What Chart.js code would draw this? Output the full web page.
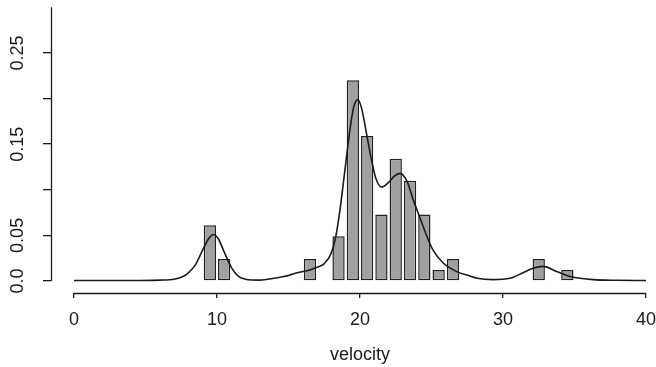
<!DOCTYPE html>
<html>
<head>
<meta charset="utf-8">
<script src="https://cdn.jsdelivr.net/npm/chart.js@4/dist/chart.umd.min.js"></script>
<style>
  html, body { margin: 0; padding: 0; background: #ffffff; }
  #wrap { width: 656px; height: 367px; position: relative; }
</style>
</head>
<body>
<div id="wrap"><canvas id="c"></canvas></div>
<script>
// Histogram of galaxy velocities (1000 km/s), unit-width bins, density scale
const binStarts = [9, 10, 16, 18, 19, 20, 21, 22, 23, 24, 25, 26, 32, 34];
const binHeights = [0.061, 0.024, 0.024, 0.049, 0.220, 0.159, 0.073, 0.134, 0.110, 0.073, 0.012, 0.024, 0.024, 0.012];

// Smooth density estimate overlaid on the histogram
const curveX = [0, 2, 4, 6, 7, 7.5, 8, 8.5, 9, 9.4, 9.75, 10.1, 10.5, 11, 11.5, 12, 13, 14, 15, 15.6, 16.5, 17, 17.5, 18, 18.3, 18.6, 18.95, 19.3, 19.55, 19.85, 20.1, 20.5, 20.8, 21.1, 21.5, 22, 22.4, 22.8, 23.3, 23.7, 24.2, 24.7, 25.1, 25.8, 26.8, 27.6, 28.2, 29.3, 30.5, 31.4, 32.1, 32.8, 33.8, 34.7, 36.3, 38, 40];
const curveY = [0.0005, 0.0005, 0.0005, 0.001, 0.002, 0.004, 0.009, 0.018, 0.034, 0.046, 0.051, 0.046, 0.032, 0.015, 0.005, 0.002, 0.001, 0.003, 0.006, 0.009, 0.012, 0.015, 0.019, 0.031, 0.048, 0.078, 0.122, 0.166, 0.190, 0.199, 0.190, 0.158, 0.133, 0.113, 0.103, 0.108, 0.115, 0.118, 0.109, 0.090, 0.069, 0.048, 0.034, 0.020, 0.010, 0.006, 0.003, 0.0015, 0.003, 0.009, 0.014, 0.016, 0.010, 0.005, 0.0015, 0.0008, 0.0005];

// Axis ticks and their labels
const xTicks = [0, 10, 20, 30, 40];
const xTickLabels = ['0', '10', '20', '30', '40'];
const yTicks = [0, 0.05, 0.10, 0.15, 0.20, 0.25];
const yTickLabels = ['0.0', '0.05', '', '0.15', '', '0.25'];
const yAxisTop = 0.30;
const xTitle = 'velocity';
const xTitleAt = 20;

const inkColor = '#1a1a1a';
const fontFamily = '"Liberation Sans", Arial, Helvetica, sans-serif';
const fontSize = 18;

const barData = binStarts.map((s, i) => ({ x: s + 0.5, y: binHeights[i] }));
const curveData = curveX.map((x, i) => ({ x: x, y: curveY[i] }));

// Draws the detached axis lines, the rotated y tick labels and the x title
const axesPlugin = {
  id: 'detachedAxes',
  afterDraw(chart) {
    const { ctx, chartArea, scales } = chart;
    const xs = scales.x, ys = scales.y;
    ctx.save();
    ctx.strokeStyle = inkColor;
    ctx.lineWidth = 1.3;
    // x axis line, spanning the tick range
    const yb = chartArea.bottom + 0.5;
    ctx.beginPath();
    ctx.moveTo(xs.getPixelForValue(xTicks[0]), yb);
    ctx.lineTo(xs.getPixelForValue(xTicks[xTicks.length - 1]), yb);
    ctx.stroke();
    // y axis line
    const xl = chartArea.left + 0.5;
    ctx.beginPath();
    ctx.moveTo(xl, ys.getPixelForValue(0));
    ctx.lineTo(xl, ys.getPixelForValue(yAxisTop));
    ctx.stroke();
    // y tick labels, reading bottom to top
    ctx.fillStyle = inkColor;
    ctx.font = fontSize + 'px ' + fontFamily;
    ctx.textAlign = 'center';
    ctx.textBaseline = 'middle';
    yTicks.forEach((v, i) => {
      if (!yTickLabels[i]) return;
      ctx.save();
      ctx.translate(18, ys.getPixelForValue(v));
      ctx.rotate(-Math.PI / 2);
      ctx.fillText(yTickLabels[i], 0, 0);
      ctx.restore();
    });
    // x axis title, centred on the plotting region
    ctx.fillText(xTitle, xs.getPixelForValue(xTitleAt), 355);
    ctx.restore();
  }
};

new Chart(document.getElementById('c'), {
  type: 'bar',
  data: {
    datasets: [
      {
        type: 'line',
        data: curveData,
        borderColor: inkColor,
        borderWidth: 1.6,
        pointRadius: 0,
        cubicInterpolationMode: 'monotone',
        fill: false,
        order: 0
      },
      {
        type: 'bar',
        data: barData,
        backgroundColor: '#a0a0a0',
        borderColor: '#222222',
        borderWidth: 1.5,
        borderSkipped: false,
        barPercentage: 0.86,
        categoryPercentage: 1.0,
        order: 1
      }
    ]
  },
  options: {
    responsive: true,
    maintainAspectRatio: false,
    animation: false,
    layout: { padding: 0 },
    plugins: {
      legend: { display: false },
      tooltip: { enabled: false }
    },
    scales: {
      x: {
        type: 'linear',
        offset: false,
        min: -1.608,
        max: 40.70,
        afterBuildTicks: (s) => { s.ticks = xTicks.map(v => ({ value: v })); },
        afterFit: (s) => { s.height = 74; s.paddingLeft = 0; s.paddingRight = 0; },
        grid: { display: true, offset: false, drawOnChartArea: false, drawTicks: true, tickLength: 5, color: inkColor, lineWidth: 1.3 },
        border: { display: false },
        ticks: {
          autoSkip: false,
          maxRotation: 0,
          padding: 11,
          color: inkColor,
          font: { family: fontFamily, size: fontSize },
          callback: (v) => { const i = xTicks.indexOf(v); return i >= 0 ? xTickLabels[i] : ''; }
        },
        title: { display: false }
      },
      y: {
        type: 'linear',
        min: -0.01316,
        max: 0.308,
        afterBuildTicks: (s) => { s.ticks = yTicks.map(v => ({ value: v })); },
        afterFit: (s) => { s.width = 51; s.paddingTop = 0; s.paddingBottom = 0; },
        grid: { display: true, drawOnChartArea: false, drawTicks: true, tickLength: 8, color: inkColor, lineWidth: 1.3 },
        border: { display: false },
        ticks: { display: false }
      }
    }
  },
  plugins: [axesPlugin]
});
</script>
</body>
</html>
